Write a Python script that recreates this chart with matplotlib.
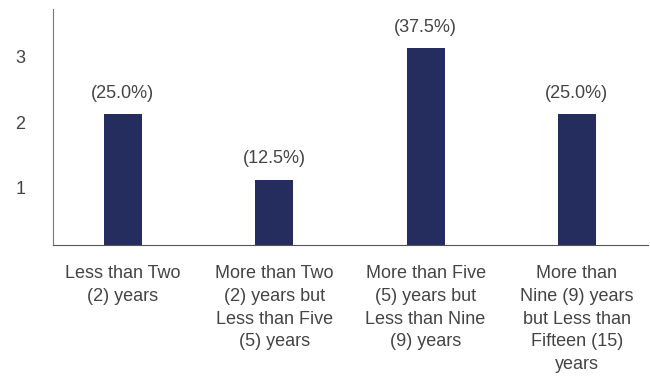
import matplotlib.pyplot as plt
import matplotlib.transforms as mtransforms
import numpy as np

categories = ['Less than Two\n(2) years',
              'More than Two\n(2) years but\nLess than Five\n(5) years',
              'More than Five\n(5) years but\nLess than Nine\n(9) years',
              'More than\nNine (9) years\nbut Less than\nFifteen (15)\nyears']
counts = [2, 1, 3, 2]
pct_labels = ['(25.0%)', '(12.5%)', '(37.5%)', '(25.0%)']
yticks = [1, 2, 3]

plt.rcParams['font.family'] = ['Liberation Sans', 'DejaVu Sans']
text_color = '#444444'
fs = 13

fig = plt.figure(figsize=(6.5, 3.79), dpi=100)
ax = fig.add_axes([0.082, 0.353, 0.915, 0.623])

x = np.arange(len(categories))
bars = ax.bar(x, counts, width=0.25, color='#252d5e', zorder=2)

for b, lab in zip(bars, pct_labels):
    ax.annotate(lab, (b.get_x() + b.get_width() / 2, b.get_height()),
                xytext=(0, 9), textcoords='offset points',
                ha='center', va='bottom', fontsize=fs, color=text_color)

ax.set_xlim(-0.46, 3.47)
ax.set_ylim(0, 3.6)
ax.set_xticks(x)
ax.set_xticklabels(categories, fontsize=fs, color=text_color, linespacing=1.43)
ax.set_yticks(yticks)
ax.set_yticklabels([str(v) for v in yticks], fontsize=fs, color=text_color)
ax.tick_params(axis='both', length=0)
ax.tick_params(axis='x', pad=14.5)
ax.tick_params(axis='y', pad=20)

# labels sit a little below their values in the original
shift = mtransforms.ScaledTranslation(0, -8 / 100, fig.dpi_scale_trans)
for t in ax.get_yticklabels():
    t.set_transform(t.get_transform() + shift)

for s in ['top', 'right']:
    ax.spines[s].set_visible(False)
ax.spines['left'].set_color('#777777')
ax.spines['bottom'].set_color('#555555')

plt.savefig('out.png', dpi=100)
